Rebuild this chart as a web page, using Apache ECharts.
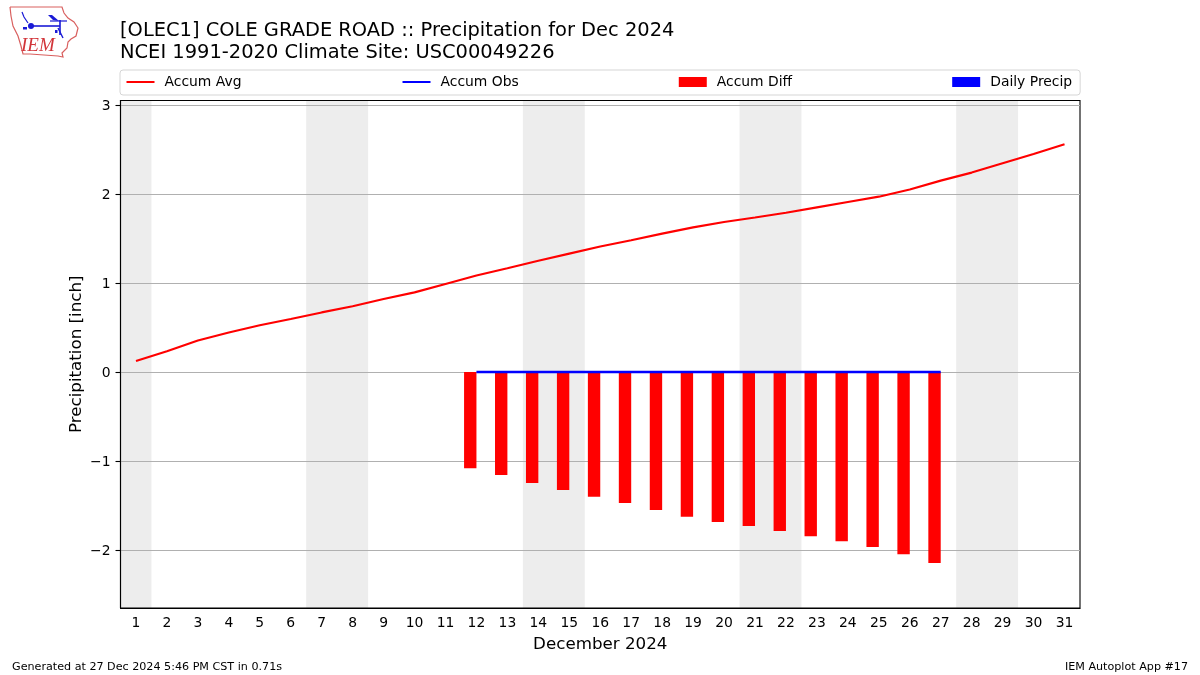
<!DOCTYPE html>
<html><head><meta charset="utf-8">
<style>html,body{margin:0;padding:0;background:#fff}#c{width:1200px;height:675px}</style>
<script src="https://cdn.jsdelivr.net/npm/echarts@6/dist/echarts.min.js"></script>
</head><body><div id="c"></div>
<script>
const days = [1,2,3,4,5,6,7,8,9,10,11,12,13,14,15,16,17,18,19,20,21,22,23,24,25,26,27,28,29,30,31];
const accumAvg = [0.125,0.235,0.355,0.445,0.525,0.595,0.67,0.74,0.82,0.895,0.99,1.085,1.165,1.25,1.33,1.41,1.48,1.555,1.625,1.685,1.735,1.79,1.85,1.91,1.97,2.05,2.15,2.24,2.345,2.45,2.56];
const accumObs = [null,null,null,null,null,null,null,null,null,null,null,0,0,0,0,0,0,0,0,0,0,0,0,0,0,0,0,null,null,null,null];
const accumDiff = [null,null,null,null,null,null,null,null,null,null,null,-1.08,-1.155,-1.245,-1.325,-1.40,-1.47,-1.55,-1.625,-1.685,-1.73,-1.785,-1.845,-1.90,-1.965,-2.045,-2.145,null,null,null,null];
const dailyPrecip = [null,null,null,null,null,null,null,null,null,null,null,0,0,0,0,0,0,0,0,0,0,0,0,0,0,0,0,null,null,null,null];
const weekends = [[0.5,1.5],[6.5,8.5],[13.5,15.5],[20.5,22.5],[27.5,29.5]];
const yTicks = [-2,-1,0,1,2,3];
const FONT = '"DejaVu Sans"';
const INK = '#000';
const LOGO_RED = '#d9605f', LOGO_BLUE = '#1a1ad6';

const chart = echarts.init(document.getElementById('c'), null, {renderer:'canvas'});
chart.setOption({
  animation:false,
  backgroundColor:'#fff',
  textStyle:{fontFamily:FONT},
  title:[
    {text:'[OLEC1] COLE GRADE ROAD :: Precipitation for Dec 2024\nNCEI 1991-2020 Climate Site: USC00049226',left:120,top:20,padding:0,
     textStyle:{fontFamily:FONT,fontSize:19.45,fontWeight:'normal',color:INK,lineHeight:22}},
    {text:'Generated at 27 Dec 2024 5:46 PM CST in 0.71s',left:12,top:662,padding:0,textStyle:{fontFamily:FONT,fontSize:11.15,fontWeight:'normal',color:INK}},
    {text:'IEM Autoplot App #17',right:12,top:662,padding:0,textStyle:{fontFamily:FONT,fontSize:11.15,fontWeight:'normal',color:INK}}
  ],
  legend:{
    left:120,top:70,itemGap:160,itemWidth:28,itemHeight:10,padding:[5,8,6,5.5],
    backgroundColor:'#fff',borderColor:'#d5d5d5',borderWidth:1,borderRadius:3,
    lineStyle:{width:2},
    textStyle:{fontFamily:FONT,fontSize:13.9,color:INK,padding:[0,0,0,5]},
    data:[{name:'Accum Avg',itemStyle:{opacity:0}},{name:'Accum Obs',itemStyle:{opacity:0}},{name:'Accum Diff',icon:'rect'},{name:'Daily Precip',icon:'rect'}]
  },
  grid:{left:120.5,right:120,top:100.5,bottom:67,show:true,borderColor:INK,borderWidth:1.1,backgroundColor:'transparent'},
  xAxis:[
    {type:'category',data:days,boundaryGap:true,name:'December 2024',nameLocation:'middle',nameGap:28,
     nameTextStyle:{fontFamily:FONT,fontSize:16.7,color:INK},
     axisLine:{onZero:false,lineStyle:{color:INK,width:1.1}},
     axisTick:{alignWithLabel:true,length:5,lineStyle:{color:INK,width:1.1}},
     axisLabel:{fontFamily:FONT,fontSize:13.9,color:INK,margin:8,interval:0},splitLine:{show:false}},
    {type:'value',min:0.5,max:31.5,show:false,splitLine:{show:false}}
  ],
  yAxis:{type:'value',min:-2.65,max:3.05,name:'Precipitation [inch]',nameLocation:'middle',nameGap:35,nameMoveOverlap:false,
     nameTextStyle:{fontFamily:FONT,fontSize:16.7,color:INK},
     axisLine:{show:true,onZero:false,lineStyle:{color:INK,width:1.1}},
     axisTick:{show:true,length:5,customValues:yTicks,lineStyle:{color:INK,width:1.1}},
     axisLabel:{color:INK,margin:10,customValues:yTicks,
       formatter:v=>'{a|'+String(v).replace('-','\u2212')+'}',
       rich:{a:{fontFamily:FONT,fontSize:13.9,color:INK,padding:[2,0,0,0]}}},
     splitLine:{show:true,lineStyle:{color:'#b0b0b0',width:1.1}}},
  series:[
    {name:'Accum Avg',type:'line',data:accumAvg,symbol:'none',z:5,lineStyle:{color:'#f00',width:2.1},itemStyle:{color:'#f00'}},
    {name:'Accum Obs',type:'line',data:accumObs,symbol:'none',z:6,lineStyle:{color:'#00f',width:2.5},itemStyle:{color:'#00f'}},
    {name:'Accum Diff',type:'bar',data:accumDiff,barWidth:'40%',barGap:0,z:3,itemStyle:{color:'#f00'}},
    {name:'Daily Precip',type:'bar',data:dailyPrecip,barWidth:'40%',barGap:0,z:3,itemStyle:{color:'#00f'}},
    {name:'weekend',type:'line',xAxisIndex:1,data:[],silent:true,z:-1,
     markArea:{silent:true,z:-1,itemStyle:{color:'#ededed'},data:weekends.map(w=>[{xAxis:w[0]},{xAxis:w[1]}])}}
  ],
  graphic:[
    {type:'polyline',silent:true,shape:{points:[[10,7],[62,7],[64,13],[68,18],[74,22],[78,28],[76,36],[71,39],[68,42],[67,48],[62,53],[63,57],[58,56],[30,54],[23,54],[21,46],[18,36],[13,26],[11,16],[10,7]]},style:{fill:'none',stroke:LOGO_RED,lineWidth:1.2}},
    {type:'polyline',silent:true,shape:{points:[[31,26],[60,26]]},style:{fill:'none',stroke:LOGO_BLUE,lineWidth:1.6}},
    {type:'polyline',silent:true,shape:{points:[[60,20],[60,35]]},style:{fill:'none',stroke:LOGO_BLUE,lineWidth:1.6}},
    {type:'polyline',silent:true,shape:{points:[[22,12],[24,17],[28,23]]},style:{fill:'none',stroke:LOGO_BLUE,lineWidth:1.2}},
    {type:'polygon',silent:true,shape:{points:[[48,15],[52,15],[59,21],[53,20]]},style:{fill:LOGO_BLUE}},
    {type:'polyline',silent:true,shape:{points:[[50,21],[67,21]]},style:{fill:'none',stroke:LOGO_BLUE,lineWidth:1.2}},
    {type:'polyline',silent:true,shape:{points:[[58,28],[63,38]]},style:{fill:'none',stroke:LOGO_BLUE,lineWidth:1.4}},
    {type:'circle',silent:true,shape:{cx:31,cy:26,r:3},style:{fill:LOGO_BLUE}},
    {type:'rect',silent:true,shape:{x:23,y:27,width:4,height:2.5},style:{fill:LOGO_BLUE}},
    {type:'rect',silent:true,shape:{x:55,y:30,width:2.5,height:3},style:{fill:LOGO_BLUE}},
    {type:'text',silent:true,style:{x:21,y:36,text:'IEM',fill:'#d2353a',font:'italic 19px "Liberation Serif"'}}
  ]
});
</script></body></html>
